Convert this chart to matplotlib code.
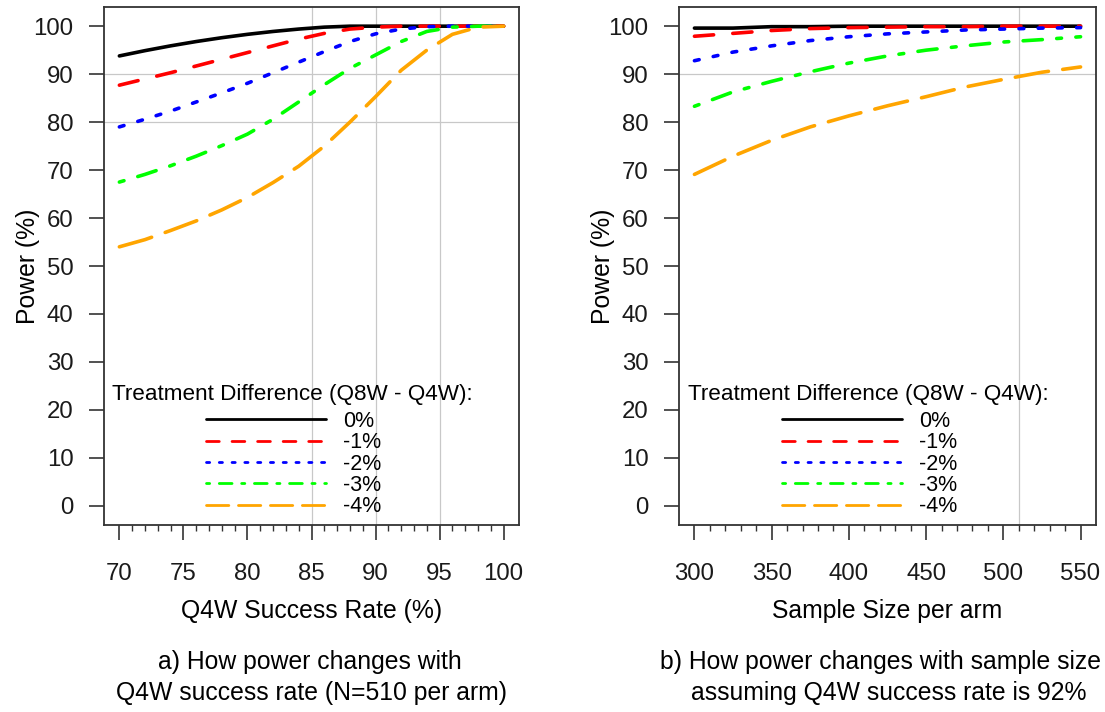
import matplotlib
matplotlib.use("Agg")
import matplotlib.pyplot as plt
from matplotlib.lines import Line2D
from matplotlib.ticker import FixedLocator

# ---------------- data ----------------
rate = [70, 72, 74, 76, 78, 80, 82, 84, 86, 88, 90, 92, 94, 96, 98, 100]
pw_rate_0 = [93.8, 94.9, 95.9, 96.8, 97.6, 98.3, 98.9, 99.4, 99.8, 100, 100, 100, 100, 100, 100, 100]
pw_rate_1 = [87.7, 89.0, 90.3, 91.7, 93.1, 94.5, 95.9, 97.3, 98.5, 99.4, 99.8, 100, 100, 100, 100, 100]
pw_rate_2 = [79.0, 80.6, 82.3, 84.2, 86.1, 88.1, 90.3, 92.5, 94.7, 96.8, 98.4, 99.4, 99.9, 100, 100, 100]
pw_rate_3 = [67.5, 69.1, 70.9, 72.9, 75.1, 77.5, 80.6, 84.2, 87.8, 91.2, 94.0, 96.8, 98.9, 99.8, 100, 100]
pw_rate_4 = [54.0, 55.5, 57.4, 59.4, 61.7, 64.3, 67.4, 70.8, 75.0, 80.0, 85.3, 90.8, 95.0, 98.3, 99.8, 100]

size = [300, 325, 350, 375, 400, 425, 450, 475, 500, 525, 550]
pw_size_0 = [99.6, 99.6, 99.9, 99.9, 100, 100, 100, 100, 100, 100, 100]
pw_size_1 = [97.9, 98.5, 99.1, 99.5, 99.7, 99.8, 99.9, 99.9, 100, 100, 100]
pw_size_2 = [92.8, 94.6, 95.9, 97.0, 97.8, 98.4, 98.8, 99.2, 99.4, 99.6, 99.7]
pw_size_3 = [83.3, 86.3, 88.5, 90.5, 92.3, 93.8, 95.0, 95.9, 96.7, 97.2, 97.8]
pw_size_4 = [69.1, 72.9, 76.2, 79.0, 81.3, 83.4, 85.3, 87.3, 88.9, 90.4, 91.5]

labels = ["0%", "-1%", "-2%", "-3%", "-4%"]
colors = ["black", "#FF0000", "#0000FF", "#00FF00", "#FFA500"]

ref_x_left = [85, 90, 95]
ref_y_left = [80, 90]
ref_x_right = [510]
ref_y_right = [90]

x_ticks_left = [70, 75, 80, 85, 90, 95, 100]
x_minor_left = list(range(70, 101, 1))
x_ticks_right = [300, 350, 400, 450, 500, 550]
x_minor_right = list(range(300, 551, 10))
y_ticks = [0, 10, 20, 30, 40, 50, 60, 70, 80, 90, 100]

legend_title = "Treatment Difference (Q8W - Q4W):"
xlabel_left = "Q4W Success Rate (%)"
xlabel_right = "Sample Size per arm"
ylabel = "Power (%)"
sub_left = ["a) How power changes with", "Q4W success rate (N=510 per arm)"]
sub_right = ["b) How power changes with sample size", "assuming Q4W success rate is 92%"]

# ---------------- style ----------------
plt.rcParams["font.family"] = ["Liberation Sans", "DejaVu Sans"]
plt.rcParams["lines.scale_dashes"] = False
plt.rcParams["lines.dash_capstyle"] = "round"
plt.rcParams["lines.solid_capstyle"] = "round"

LW = 2.6
U = 3.46  # R lty unit for lwd=3, in points
dash_plot = [None, (0, (4 * U, 4 * U)), (0, (1 * U, 3 * U)),
             (0, (1 * U, 3 * U, 4 * U, 3 * U)), (0, (7 * U, 3 * U))]
LWL = 2.0
UL = 2.3
dash_leg = [None, (0, (4 * UL, 4 * UL)), (0, (1 * UL, 3 * UL)),
            (0, (1 * UL, 3 * UL, 4 * UL, 3 * UL)), (0, (7 * UL, 3 * UL))]

TICK_FS = 17.3
LABEL_FS = 17.8
LEG_FS = 15.5
TITLE_FS = 16.2
EDGE = "#333333"
GRID = "#C8C8C8"

fig = plt.figure(figsize=(11.05, 7.12), dpi=100)
axL = fig.add_axes([104 / 1105, 1 - 525 / 712, 415 / 1105, 518 / 712])
axR = fig.add_axes([679 / 1105, 1 - 525 / 712, 417 / 1105, 518 / 712])


def draw(ax, xs, series, ref_x, ref_y, xlim, xticks, minors, xlabel, sub, sub_dx):
    for v in ref_x:
        ax.axvline(v, color=GRID, lw=0.9, zorder=1)
    for v in ref_y:
        ax.axhline(v, color=GRID, lw=0.9, zorder=1)
    for i, ys in enumerate(series):
        kw = dict(color=colors[i], lw=LW, zorder=3)
        if dash_plot[i] is not None:
            kw["linestyle"] = dash_plot[i]
        ax.plot(xs, ys, **kw)
    ax.set_xlim(*xlim)
    ax.set_ylim(-4, 104)
    ax.set_xticks(xticks)
    ax.set_yticks(y_ticks)
    ax.xaxis.set_minor_locator(FixedLocator(minors))
    ax.tick_params(axis="both", which="major", direction="out", length=11,
                   width=1.2, color=EDGE, labelsize=TICK_FS, labelcolor="#1a1a1a")
    ax.tick_params(axis="x", which="major", pad=16.5)
    ax.tick_params(axis="y", which="major", pad=11)
    ax.tick_params(axis="x", which="minor", direction="out", length=4,
                   width=1.0, color=EDGE)
    for s in ax.spines.values():
        s.set_color(EDGE)
        s.set_linewidth(1.3)
    ax.set_xlabel(xlabel, fontsize=LABEL_FS, labelpad=10)
    ax.set_ylabel(ylabel, fontsize=LABEL_FS, labelpad=-4.5)

    # legend (R style: centered title, entries block centered below it)
    ax.text(0.453, 0.251, legend_title, transform=ax.transAxes,
            ha="center", va="center", fontsize=TITLE_FS, zorder=5)
    handles = []
    for i in range(5):
        kw = dict(color=colors[i], lw=LWL)
        if dash_leg[i] is not None:
            kw["linestyle"] = dash_leg[i]
        handles.append(Line2D([0], [1], **kw))
    leg = ax.legend(handles, labels, loc="center",
                    bbox_to_anchor=(0.457, 0.1177), frameon=False,
                    fontsize=LEG_FS, handlelength=5.6, handletextpad=0.8,
                    labelspacing=0.015, borderpad=0.1)
    leg.set_zorder(4)

    pos = ax.get_position()
    cx = pos.x0 + pos.width / 2
    fig.text(cx + sub_dx[0] / 1105, 1 - 662 / 712, sub[0], ha="center", va="center",
             fontsize=LABEL_FS)
    fig.text(cx + sub_dx[1] / 1105, 1 - 693 / 712, sub[1], ha="center", va="center",
             fontsize=LABEL_FS)


draw(axL, rate, [pw_rate_0, pw_rate_1, pw_rate_2, pw_rate_3, pw_rate_4],
     ref_x_left, ref_y_left, (68.8, 101.2), x_ticks_left, x_minor_left,
     xlabel_left, sub_left, (-2, 0))
draw(axR, size, [pw_size_0, pw_size_1, pw_size_2, pw_size_3, pw_size_4],
     ref_x_right, ref_y_right, (290, 560), x_ticks_right, x_minor_right,
     xlabel_right, sub_right, (-7, 1))

fig.savefig("out.png", dpi=100)
